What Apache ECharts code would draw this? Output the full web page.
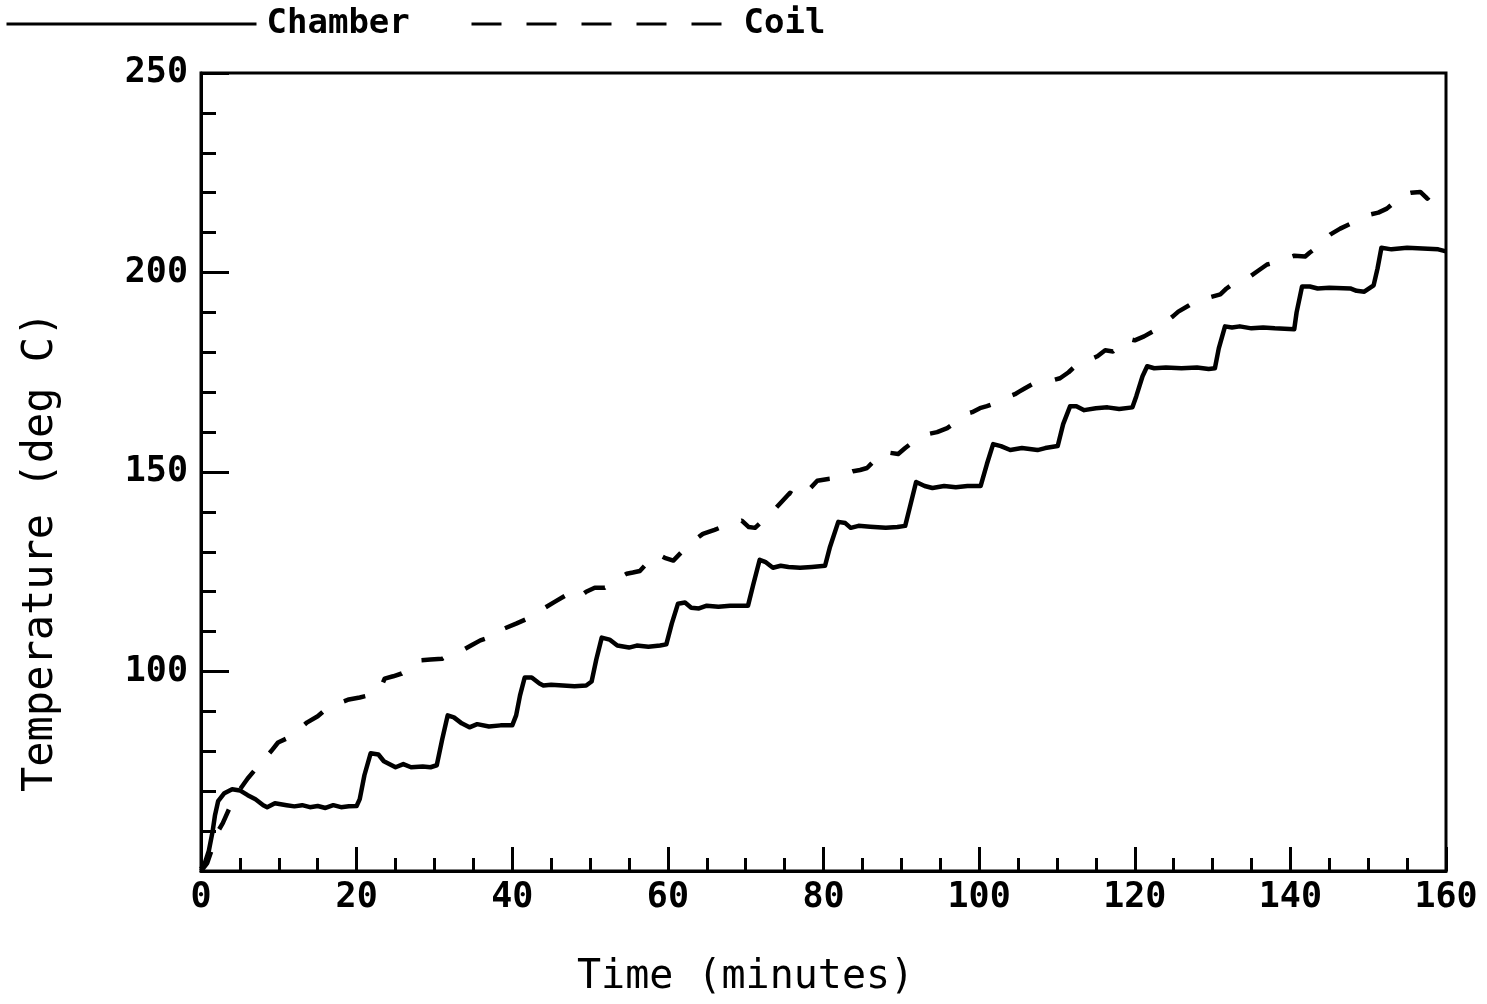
<!DOCTYPE html>
<html>
<head>
<meta charset="utf-8">
<script src="https://cdn.jsdelivr.net/npm/echarts@6/dist/echarts.min.js"></script>
<style>
html,body{margin:0;padding:0;background:#fff;}
#chart{width:1487px;height:1004px;}
</style>
</head>
<body>
<div id="chart"></div>
<script>
// ---- data ----
const seriesNames = ['Chamber', 'Coil'];
const xTitle = 'Time (minutes)';
const yTitle = 'Temperature (deg C)';
const xTicks = [0, 20, 40, 60, 80, 100, 120, 140, 160];
const yTicks = [100, 150, 200, 250];

const chamber = [
  [0,50.5],[0.5,52],[1,55],[1.5,60],[1.8,64],[2.2,67.5],[3,69.5],[4,70.5],[5,70.2],[6,69],[7,68],[8,66.5],[8.5,66],
  [9.5,67],[11,66.5],[12,66.2],[13,66.5],[14,66],[15,66.3],[16,65.8],[17,66.5],[18,66],[19,66.2],[20,66.3],
  [20.4,68],[21,74],[21.8,79.5],[22.8,79.2],[23.5,77.5],[25,76],[26,76.8],[27,76],[28.5,76.2],[29.5,76],[30.3,76.5],
  [31,83],[31.7,89],[32.5,88.5],[33.5,87],[34.5,86],[35.5,86.8],[37,86.2],[38.5,86.5],[40,86.5],
  [40.5,89],[41,94],[41.6,98.5],[42.5,98.5],[43.5,97],[44,96.5],[45,96.7],[46.5,96.5],[48,96.3],[49.5,96.5],[50.2,97.5],
  [50.8,103],[51.5,108.5],[52.5,108],[53.5,106.5],[55,106],[56,106.5],[57.5,106.2],[59,106.5],[59.8,106.8],
  [60.5,112],[61.3,117],[62.2,117.3],[63,116],[64,115.8],[65,116.5],[66.5,116.2],[68,116.5],[70.3,116.5],
  [71,122],[71.8,128],[72.5,127.5],[73.5,126],[74.5,126.5],[75.5,126.2],[77,126],[78.5,126.2],[80.2,126.5],
  [80.8,131],[81.9,137.5],[82.8,137.2],[83.5,136],[84.5,136.5],[86,136.3],[88,136],[89.5,136.2],[90.5,136.5],
  [91.2,142],[91.9,147.5],[93,146.5],[94,146],[95.5,146.5],[97,146.2],[98.5,146.5],[100.2,146.5],
  [101,152],[101.8,157],[102.8,156.5],[104,155.5],[105.5,156],[107.5,155.5],[108.5,156],[110.1,156.5],
  [110.8,162],[111.7,166.5],[112.5,166.5],[113.5,165.5],[115,166],[116.5,166.2],[118,165.8],[119.7,166.2],
  [120.2,169],[121,174],[121.6,176.5],[122.5,176],[124,176.2],[126,176],[128,176.2],[129.5,175.8],[130.3,176],
  [130.8,181],[131.6,186.5],[132.5,186.2],[133.5,186.5],[135,186],[136.5,186.2],[138,186],[140.5,185.8],
  [140.8,190],[141.5,196.5],[142.5,196.5],[143.5,196],[145,196.2],[147.7,196],[148.5,195.4],[149.5,195.2],[150.7,196.8],
  [151.2,201],[151.7,206.2],[153,205.8],[155,206.2],[157,206],[159,205.8],[160,205.3]
];

const coil = [
  [0,50],[0.8,52],[1.5,56],[2.2,60],[2.8,62],[3.6,65.5],[4.4,68.5],[5.2,71],[6,73.2],[7,75.5],[8,77.8],[9,80],
  [9.9,82.2],[11,83.2],[12.1,85.3],[13,86.2],[13.6,87.2],[15,88.8],[16.2,90.8],[17,91.5],[17.9,92.2],[19,93],
  [20.4,93.5],[21.5,94],[22.4,94.8],[23,95.5],[23.6,98.2],[24.7,98.8],[25.8,99.5],[27,101],[28.1,102.8],[29.5,103],
  [31,103.2],[32.2,104.5],[33.5,105.2],[34.7,106.5],[35.9,107.8],[36.5,108.2],[37.1,109.8],[38,110.2],[39,110.8],
  [40.5,112],[41.9,113.2],[43,114.5],[44.2,116],[45.5,117.5],[46.8,119],[47.5,119.5],[48.3,118.2],[49.5,120],
  [50.6,121],[51.9,121],[53.3,123],[54.7,124.5],[55.5,124.8],[56.4,125.2],[57.5,127.5],[58.6,129.5],[59.6,128.5],
  [60.7,127.8],[61.8,130],[62.8,132],[63.6,133.2],[64.5,134.5],[66,135.5],[67.3,136.5],[68.4,137.2],[69.5,137.8],
  [70.4,136.2],[71.2,136],[72.3,138],[73.5,140.2],[74.6,142.5],[75.7,144.8],[76.4,144],[77,143.5],[78.1,145.5],
  [79.2,147.8],[80.4,148.2],[81.7,148.5],[82.8,149.5],[83.8,150.2],[84.7,150.5],[85.6,151],[86.6,153],[87.6,155.2],
  [88.6,154.8],[89.6,154.5],[90.5,156],[91.5,157.5],[92.4,158.5],[93.4,159.5],[94.6,160],[95.9,161],[97,162.5],
  [98.2,164.5],[99.1,165],[100.1,166],[101,166.5],[102,167.2],[103.3,168.5],[104.6,169.5],[105.2,170.2],[105.9,171],
  [107.3,172.5],[108.7,172.8],[109.5,173],[110.4,173.5],[111.5,175],[112.7,177.2],[114,178],[115.2,179],[116.2,180.5],
  [117.2,180.2],[118.1,181.5],[119,183.5],[120,183],[121.2,184],[122.3,185.2],[123.2,186],[124.1,187.8],[124.9,189],
  [125.6,190.2],[127,191.8],[128.4,193.5],[129.7,193.8],[131,194.5],[131.8,196],[132.5,197],[133.6,198],[134.8,199],
  [135.9,200.5],[137,202],[138,202.5],[139,203.2],[140.5,204.2],[141.9,204],[142.5,205],[143.2,206],[144.2,207.8],
  [145.1,209.5],[146.4,211],[147.7,212.2],[149,213.5],[150.2,214.5],[151.3,215],[152.4,216],[153.3,217.5],[154.3,219.5],
  [155.5,220],[156.7,220.2],[157.6,218.5],[158.4,220],[159.2,221],[160,222.5]
];

// ---- chart ----
const FONT = '"DejaVu Sans Mono", monospace';
const chart = echarts.init(document.getElementById('chart'), null, {renderer: 'canvas'});
const legendText = {fontFamily: FONT, fontWeight: 'bold', fontSize: 34, color: '#000'};
const hiddenSymbol = {color: 'rgba(0,0,0,0)', borderColor: 'rgba(0,0,0,0)', borderWidth: 0};
chart.setOption({
  animation: false,
  backgroundColor: '#fff',
  legend: [
    {id: 'lg1', data: [seriesNames[0]], left: 0, top: 2, itemWidth: 250, itemHeight: 30, itemGap: 0,
     textStyle: Object.assign({padding: [0, 0, 0, 5]}, legendText), itemStyle: hiddenSymbol, lineStyle: {width: 3}},
    {id: 'lg2', data: [seriesNames[1]], left: 465, top: 2, itemWidth: 265, itemHeight: 30, itemGap: 0,
     textStyle: Object.assign({padding: [0, 0, 0, 2]}, legendText), itemStyle: hiddenSymbol, lineStyle: {width: 3, type: [30, 25]}}
  ],
  grid: {left: 201, right: 41, top: 73, bottom: 133, show: true, borderColor: '#000', borderWidth: 3, backgroundColor: 'transparent'},
  xAxis: {
    type: 'value', min: 0, max: 160, interval: 20,
    axisLine: {show: true, lineStyle: {color: '#000', width: 3}},
    axisTick: {show: true, inside: true, length: 24, lineStyle: {color: '#000', width: 3}},
    minorTick: {show: true, splitNumber: 4, length: 13, lineStyle: {color: '#000', width: 3}},
    splitLine: {show: false},
    axisLabel: {margin: 9, fontFamily: FONT, fontWeight: 'bold', fontSize: 35, color: '#000',
      formatter: v => xTicks.indexOf(v) >= 0 ? String(v) : ''}
  },
  yAxis: {
    type: 'value', min: 50, max: 250, interval: 50,
    axisLine: {show: true, lineStyle: {color: '#000', width: 3}},
    axisTick: {show: true, inside: true, length: 28, lineStyle: {color: '#000', width: 3}},
    minorTick: {show: true, splitNumber: 5, length: 15, lineStyle: {color: '#000', width: 3}},
    splitLine: {show: false},
    axisLabel: {margin: 13, fontFamily: FONT, fontWeight: 'bold', fontSize: 35, color: '#000',
      formatter: v => yTicks.indexOf(v) >= 0 ? String(v) : ''}
  },
  graphic: [
    {type: 'text', left: 577, top: 958, style: {text: xTitle, fontFamily: FONT, fontSize: 40, fill: '#000'}},
    {type: 'text', x: 20, y: 792, rotation: Math.PI / 2, style: {text: yTitle, fontFamily: FONT, fontSize: 42, fill: '#000', textVerticalAlign: 'top'}}
  ],
  series: [
    {name: seriesNames[0], type: 'line', data: chamber, symbol: 'none', showSymbol: false,
     lineStyle: {color: '#000', width: 4.5, join: 'round'}, itemStyle: {color: '#000'}},
    {name: seriesNames[1], type: 'line', data: coil, symbol: 'none', showSymbol: false,
     lineStyle: {color: '#000', width: 4.5, type: [22, 24], join: 'round'}, itemStyle: {color: '#000'}}
  ]
});
</script>
</body>
</html>
